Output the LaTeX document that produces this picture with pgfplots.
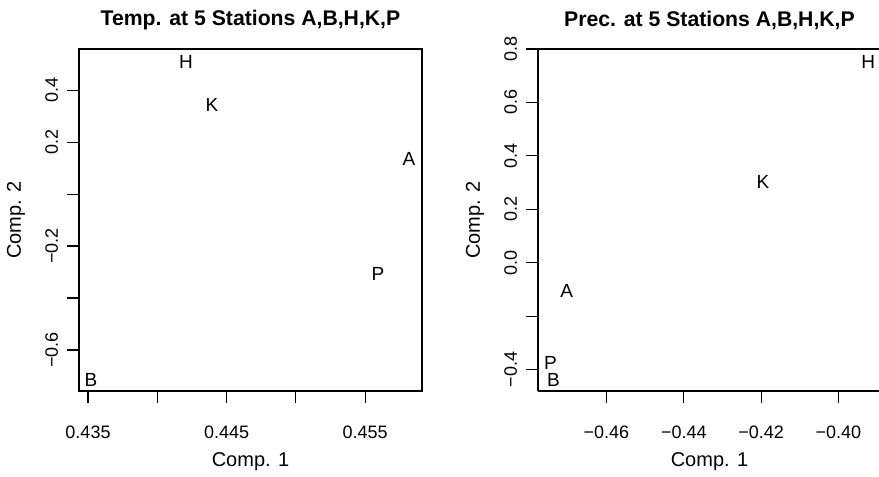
\documentclass[border=0pt]{standalone}
\usepackage{pgfplots}
\pgfplotsset{compat=1.18}
\usepackage{pgfplotstable}
\usepackage{fontspec}
\setmainfont{Liberation Sans}
\pgfplotstableread{
lab x y
H 0.44207 0.509
K 0.44395 0.3435
A 0.45816 0.136
P 0.45592 -0.3065
B 0.43522 -0.714
}\temp
\pgfplotstableread{
lab x y
H -0.3923 0.752
K -0.4195 0.303
A -0.4703 -0.104
P -0.4745 -0.374
B -0.4737 -0.4386
}\prec
\pgfplotsset{
  rstyle/.style={
    scale only axis, width=171.5pt, height=171pt, anchor=south west,
    clip=false, axis line style={line width=0.6pt}, tick style={line width=0.6pt, black},
    tick align=outside, major tick length=6pt,
    xtick pos=lower, ytick pos=left,
    xticklabel style={font=\fontsize{9}{10}\selectfont, anchor=north},
    yticklabel style={font=\fontsize{9}{10}\selectfont, rotate=90, anchor=south},
    xticklabel shift=8pt, yticklabel shift=1pt,
    xlabel style={font=\fontsize{10}{12}\selectfont, at={(axis description cs:0.5,-0.2076)}, anchor=center},
    ylabel style={font=\fontsize{10}{12}\selectfont, at={(axis description cs:-0.1837,0.5)}, anchor=center, rotate=0},
    every axis title shift=0pt,
    title style={font=\fontsize{10.6}{12}\bfseries, at={(axis description cs:0.5,1.0848)}, anchor=center},
    xlabel={Comp. 1}, ylabel={Comp. 2},
  },
  lbl/.style={only marks, mark=none, nodes near coords, point meta=explicit symbolic,
    every node near coord/.style={anchor=center, font=\fontsize{9.5}{11}\selectfont, black}},
}
\begin{document}
\begin{tikzpicture}
\useasboundingbox (0,0) rectangle (439.5pt,238.5pt);
\begin{axis}[rstyle, at={(39.5pt,43pt)},
  title={Temp. at 5 Stations A,B,H,K,P},
  xmin=0.43435, xmax=0.4591, ymin=-0.758, ymax=0.559,
  xtick={0.435,0.440,0.445,0.450,0.455},
  xticklabels={0.435,,0.445,,0.455},
  ytick={-0.6,-0.4,-0.2,0,0.2,0.4},
  yticklabels={−0.6,,−0.2,,0.2,0.4},
]
\addplot[lbl] table[x=x, y=y, meta=lab] {\temp};
\end{axis}
\begin{axis}[rstyle, at={(269pt,43pt)},
  axis x line*=box, axis y line*=left,
  title={Prec. at 5 Stations A,B,H,K,P},
  xmin=-0.4777, xmax=-0.389, ymin=-0.48, ymax=0.8,
  xtick={-0.46,-0.44,-0.42,-0.40},
  xticklabels={−0.46,−0.44,−0.42,−0.40},
  ytick={-0.4,-0.2,0,0.2,0.4,0.6,0.8},
  yticklabels={−0.4,,0.0,0.2,0.4,0.6,0.8},
]
\addplot[lbl] table[x=x, y=y, meta=lab] {\prec};
\end{axis}
\end{tikzpicture}
\end{document}
